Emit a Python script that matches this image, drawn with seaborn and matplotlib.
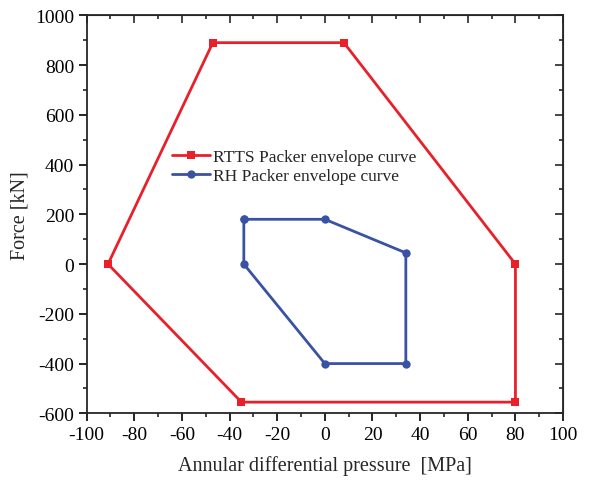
import numpy as np
import pandas as pd
import matplotlib
matplotlib.use("Agg")
import matplotlib.pyplot as plt
from matplotlib.ticker import MultipleLocator
import seaborn as sns

rtts_x = [-47, 8, 80, 80, -35, -91, -47]
rtts_y = [890, 890, 0, -555, -555, 0, 890]
rh_x = [-34, 0, 34, 34, 0, -34, -34]
rh_y = [180, 180, 45, -400, -400, 0, 180]
labels = ["RTTS Packer envelope curve", "RH Packer envelope curve"]

df = pd.concat([
    pd.DataFrame({"x": rtts_x, "y": rtts_y, "curve": labels[0]}),
    pd.DataFrame({"x": rh_x, "y": rh_y, "curve": labels[1]}),
])

sns.set_style("ticks")
plt.rcParams['font.family'] = ['Liberation Serif', 'DejaVu Serif']
plt.rcParams['axes.unicode_minus'] = False

fig = plt.figure(figsize=(5.89, 4.81), dpi=100)
ax = fig.add_axes([0.147, 0.1386, 0.809, 0.8275])

palette = {labels[0]: "#e8202a", labels[1]: "#3a52a4"}
sns.lineplot(data=df, x="x", y="y", hue="curve", style="curve", palette=palette,
             markers={labels[0]: "s", labels[1]: "o"}, dashes=False, sort=False,
             estimator=None, units="curve", linewidth=2, markersize=6,
             markeredgewidth=0, ax=ax)

ax.set_xlim(-100, 100)
ax.set_ylim(-600, 1000)
ax.xaxis.set_major_locator(MultipleLocator(20))
ax.xaxis.set_minor_locator(MultipleLocator(10))
ax.yaxis.set_major_locator(MultipleLocator(200))
ax.yaxis.set_minor_locator(MultipleLocator(100))
ax.tick_params(which='major', direction='out', length=6, width=1.2, labelsize=14, colors='black', pad=3)
ax.tick_params(which='minor', direction='out', length=3, width=1.2)
for s in ax.spines.values():
    s.set_linewidth(1.3)
    s.set_visible(True)

top = ax.secondary_xaxis('top')
top.xaxis.set_major_locator(MultipleLocator(20))
top.xaxis.set_minor_locator(MultipleLocator(10))
top.tick_params(which='major', direction='in', length=6, width=1.2, labeltop=False)
top.tick_params(which='minor', direction='in', length=3, width=1.2)
right = ax.secondary_yaxis('right')
right.yaxis.set_major_locator(MultipleLocator(200))
right.yaxis.set_minor_locator(MultipleLocator(100))
right.tick_params(which='major', direction='in', length=6, width=1.2, labelright=False)
right.tick_params(which='minor', direction='in', length=3, width=1.2)

ax.set_xlabel("Annular differential pressure  [MPa]", fontsize=14.5, labelpad=9)
ax.set_ylabel("Force [kN]", fontsize=14.5, labelpad=4)

leg = ax.legend(loc='upper left', bbox_to_anchor=(0.165, 0.6825), frameon=False,
                fontsize=12.5, handlelength=2.2, handletextpad=0.17, labelspacing=0.18,
                borderaxespad=0)

fig.savefig("out.png", dpi=100)
